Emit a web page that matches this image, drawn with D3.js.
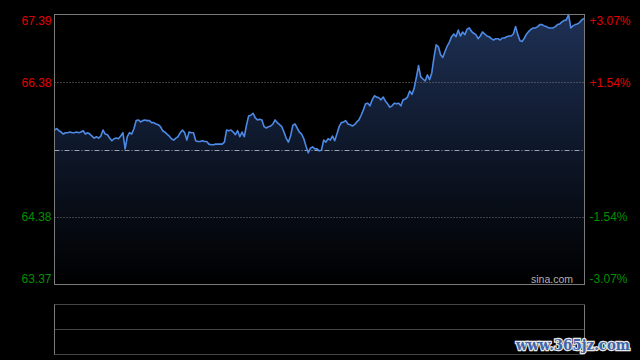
<!DOCTYPE html>
<html><head><meta charset="utf-8">
<script src="https://cdn.jsdelivr.net/npm/d3@7"></script>
<style>html,body{margin:0;padding:0;background:#000;}svg{display:block;}</style>
</head><body>
<svg id="c" width="640" height="360"></svg>
<script>
const prevClose = 65.38;
const priceMin = 63.37, priceMax = 67.39;
const leftTicks = [67.39, 66.38, 64.38, 63.37];
const leftLabels = ["67.39", "66.38", "64.38", "63.37"];
const rightLabels = ["+3.07%", "+1.54%", "-1.54%", "-3.07%"];
const minutes = 241;
const prices = [
65.67,65.69,65.66,65.64,65.61,65.63,65.63,65.64,65.63,65.63,
65.64,65.63,65.64,65.66,65.61,65.63,65.61,65.58,65.55,65.57,
65.55,65.58,65.67,65.61,65.60,65.55,65.51,65.54,65.55,65.54,
65.58,65.63,65.39,65.57,65.63,65.61,65.69,65.81,65.82,65.79,
65.81,65.82,65.81,65.81,65.78,65.78,65.76,65.75,65.72,65.66,
65.64,65.61,65.58,65.54,65.52,65.55,65.57,65.63,65.67,65.63,
65.52,65.64,65.63,65.63,65.51,65.50,65.50,65.51,65.50,65.50,
65.46,65.45,65.45,65.46,65.46,65.46,65.46,65.49,65.67,65.66,
65.67,65.64,65.60,65.66,65.57,65.64,65.57,65.74,65.88,65.89,
65.92,65.85,65.82,65.83,65.82,65.72,65.70,65.72,65.73,65.76,
65.82,65.78,65.75,65.72,65.64,65.55,65.49,65.58,65.74,65.76,
65.70,65.64,65.61,65.54,65.43,65.33,65.40,65.42,65.39,65.39,
65.36,65.37,65.52,65.49,65.54,65.52,65.58,65.51,65.61,65.72,
65.78,65.79,65.81,65.76,65.75,65.73,65.75,65.79,65.82,65.89,
65.97,66.06,66.07,66.03,66.12,66.18,66.16,66.15,66.12,66.16,
66.10,66.06,66.01,66.03,66.07,66.06,66.07,66.03,66.12,66.13,
66.16,66.25,66.20,66.29,66.45,66.63,66.46,66.43,66.40,66.49,
66.42,66.52,66.75,66.94,66.91,66.79,66.75,66.84,66.92,66.98,
67.06,67.10,67.06,67.16,67.07,67.13,67.09,67.17,67.19,67.14,
67.11,67.09,67.03,67.07,67.13,67.10,67.07,67.06,67.03,67.01,
67.03,67.03,67.01,67.04,67.04,67.06,67.07,67.07,67.10,67.21,
67.09,67.00,66.99,67.04,67.10,67.14,67.17,67.19,67.19,67.21,
67.24,67.24,67.22,67.21,67.19,67.19,67.19,67.21,67.24,67.25,
67.28,67.30,67.31,67.39,67.19,67.22,67.24,67.25,67.27,67.31,
67.33
];

const svg = d3.select("#c");
const L = 54.5, R = 584.5, T = 14.5, B = 284.5;
const x = d3.scaleLinear().domain([0, minutes - 1]).range([L, R - 0.5]);
const y = d3.scaleLinear().domain([priceMin, priceMax]).range([B, T]);

const defs = svg.append("defs");
const grad = defs.append("linearGradient").attr("id", "g")
  .attr("gradientUnits", "userSpaceOnUse")
  .attr("x1", 0).attr("x2", 0).attr("y1", T).attr("y2", B);
grad.append("stop").attr("offset", "0%").attr("stop-color", "#1e3054");
grad.append("stop").attr("offset", "50%").attr("stop-color", "#0e1729");
grad.append("stop").attr("offset", "100%").attr("stop-color", "#000000");

svg.append("path").datum(prices)
  .attr("fill", "url(#g)")
  .attr("d", d3.area().x((d, i) => x(i)).y0(B).y1(d => y(d)));

[66.38, 64.38].forEach(v => {
  svg.append("line").attr("x1", L).attr("x2", R).attr("y1", Math.round(y(v)) + 0.5).attr("y2", Math.round(y(v)) + 0.5)
    .attr("stroke", "#777").attr("stroke-dasharray", "1,2");
});
svg.append("line").attr("x1", L).attr("x2", R)
  .attr("y1", Math.round(y(prevClose)) + 0.5).attr("y2", Math.round(y(prevClose)) + 0.5)
  .attr("stroke", "#9aa3b0").attr("stroke-dasharray", "5,2,1,2");

svg.append("path").datum(prices)
  .attr("fill", "none").attr("stroke", "#4d8ae6").attr("stroke-width", 1.6)
  .attr("stroke-linejoin", "round")
  .attr("d", d3.line().x((d, i) => x(i)).y(d => y(d)));

svg.append("rect").attr("x", L).attr("y", T).attr("width", R - L).attr("height", B - T)
  .attr("fill", "none").attr("stroke", "#7a7a7a");

const leftAxis = d3.axisLeft(y).tickValues(leftTicks).tickSize(0).tickPadding(3)
  .tickFormat((d, i) => leftLabels[i]);
const gl = svg.append("g").attr("transform", `translate(${L},0)`).call(leftAxis);
gl.select(".domain").remove();
gl.selectAll("text").attr("font-family", "'Liberation Sans', Arial, sans-serif").attr("font-size", 12)
  .attr("fill", (d, i) => i < 2 ? "#e00000" : "#009000")
  .attr("transform", (d, i) => i === 0 ? "translate(0,6)" : (i === 3 ? "translate(0,-6)" : null));

const rightAxis = d3.axisRight(y).tickValues(leftTicks).tickSize(0).tickPadding(5)
  .tickFormat((d, i) => rightLabels[i]);
const gr = svg.append("g").attr("transform", `translate(${R},0)`).call(rightAxis);
gr.select(".domain").remove();
gr.selectAll("text").attr("font-family", "'Liberation Sans', Arial, sans-serif").attr("font-size", 12)
  .attr("fill", (d, i) => i < 2 ? "#e00000" : "#009000")
  .attr("transform", (d, i) => i === 0 ? "translate(0,6)" : (i === 3 ? "translate(0,-6)" : null));

svg.append("text").attr("x", 573).attr("y", 282.5).attr("text-anchor", "end")
  .attr("font-family", "'Liberation Sans', Arial, sans-serif").attr("font-size", 10.5)
  .attr("fill", "#b0b0b0").text("sina.com");

const vT = 304.5, vM = 329.5, vB = 354.5;
[vT, vM, vB].forEach(v => {
  svg.append("line").attr("x1", L).attr("x2", R).attr("y1", v).attr("y2", v)
    .attr("stroke", "#8a8a8a").attr("stroke-dasharray", "1,1");
});
[L, R].forEach(v => {
  svg.append("line").attr("x1", v).attr("x2", v).attr("y1", vT).attr("y2", vB)
    .attr("stroke", "#7a7a7a");
});

svg.append("text").attr("x", 516).attr("y", 350)
  .attr("font-family", "'DejaVu Serif', serif").attr("font-weight", "bold").attr("font-size", 15)
  .attr("textLength", 114).attr("lengthAdjust", "spacingAndGlyphs")
  .attr("fill", "#3f64a8").attr("stroke", "#e8e8e8").attr("stroke-width", 2.5)
  .attr("paint-order", "stroke").text("www.365jz.com");
</script>
</body></html>
